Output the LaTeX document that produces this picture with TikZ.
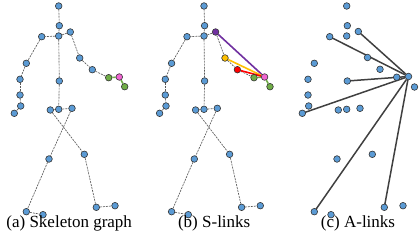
\documentclass[tikz,border=0pt]{standalone}
\usepackage{fontspec}
\setmainfont{Liberation Serif}
\usetikzlibrary{positioning}
\pgfdeclarelayer{bg}
\pgfsetlayers{bg,main}
\definecolor{jointblue}{HTML}{5B9BD5}
\definecolor{handgreen}{HTML}{70AD47}
\definecolor{tippink}{HTML}{F065D2}
\definecolor{shpurple}{HTML}{7030A0}
\definecolor{elbgold}{HTML}{FFC000}

\begin{document}
\begin{tikzpicture}[x=1pt, y=-1pt,
    joint/.style={circle, draw=black!80, line width=0.6pt, fill=jointblue, inner sep=0pt, minimum size=6.6pt},
    bone/.style={draw=black!65, line width=0.65pt, dash pattern=on 2pt off 1pt},
    slink/.style={line width=1.6pt},
    alink/.style={draw=black!75, line width=1.5pt},
    caption/.style={anchor=base, font=\fontsize{17}{20}\selectfont}]
    \useasboundingbox (0,0) rectangle (420,243);

    % Joints shared by all panels
    \foreach \p/\dx in {a/0, b/145.3, c/288} {
        \begin{scope}[shift={(\dx,0)}]
            \foreach \n/\x/\y in {head/58.7/6, neck/59.3/25.7, spsh/58.7/36, shl/41.7/36.7,
                    elbl/26.3/63.3, wril/20/79.3, hanl/20/95, tipl/20.7/106, thul/14.3/113.3,
                    spmid/59.3/81, hipl/50.3/110, hipc/58.7/109.3, hipr/72/108.3,
                    knel/49/159, kner/84.3/154.3, ankl/26.3/211.7, ankr/96.3/207.3,
                    fotl/43/214.7, fotr/115/205.7}
                \node [joint] (\p-\n) at (\x,\y) {};
        \end{scope}
    }

    % Right arm, panel a
    \node [joint] (a-shr) at (70.3,32) {};
    \node [joint] (a-elbr) at (79.7,58) {};
    \node [joint] (a-wrir) at (92.3,69.7) {};
    \node [joint, fill=handgreen] (a-hanr) at (108.7,77.7) {};
    \node [joint, fill=tippink] (a-tipr) at (119.3,77) {};
    \node [joint, fill=handgreen] (a-thur) at (124.7,86.7) {};

    % Right arm, panel b
    \node [joint, fill=shpurple] (b-shr) at (215.6,32) {};
    \node [joint, fill=elbgold] (b-elbr) at (225,58) {};
    \node [joint, fill=red] (b-wrir) at (237.4,69.7) {};
    \node [joint, fill=handgreen] (b-hanr) at (254,77.7) {};
    \node [joint, fill=tippink] (b-tipr) at (264.6,77) {};
    \node [joint, fill=handgreen] (b-thur) at (270,86.7) {};

    % Right arm, panel c
    \node [joint] (c-shr) at (358.3,31.5) {};
    \node [joint] (c-elbr) at (367.5,57.5) {};
    \node [joint] (c-wrir) at (380,69.3) {};
    \node [joint] (c-hanr) at (396.7,77.2) {};
    \node [joint] (c-tipr) at (408.5,76.5) {};
    \node [joint] (c-thur) at (414.5,87) {};

    % Bones
    \begin{pgfonlayer}{bg}
        \foreach \p in {a, b} {
            \foreach \u/\v in {head/neck, neck/spsh, spsh/shl, spsh/shr, shl/elbl, elbl/wril,
                    wril/hanl, hanl/tipl, tipl/thul, shr/elbr, elbr/wrir, wrir/hanr,
                    spsh/spmid, spmid/hipc, hipc/hipl, hipc/hipr, hipl/kner, hipr/knel,
                    knel/ankl, ankl/fotl, kner/ankr, ankr/fotr}
                \draw [bone] (\p-\u) -- (\p-\v);
            \draw [slink, handgreen] (\p-hanr) -- (\p-tipr);
            \draw [slink, handgreen] (\p-tipr) -- (\p-thur);
        }

        % S-links
        \draw [slink, shpurple] (b-shr) -- (b-tipr);
        \draw [slink, elbgold] (b-elbr) -- (b-tipr);
        \draw [slink, red] (b-wrir) -- (b-tipr);

        % A-links
        \foreach \v in {shl, shr, spmid, thul, ankl, ankr}
            \draw [alink] (c-tipr) -- (c-\v.center);
    \end{pgfonlayer}

    % Captions
    \node [caption] (capa) at (69.2,227.3) {(a) Skeleton graph};
    \node [caption] (capb) at (214.2,227.3) {(b) S-links};
    \node [caption] (capc) at (358,227.3) {(c) A-links};
\end{tikzpicture}
\end{document}
